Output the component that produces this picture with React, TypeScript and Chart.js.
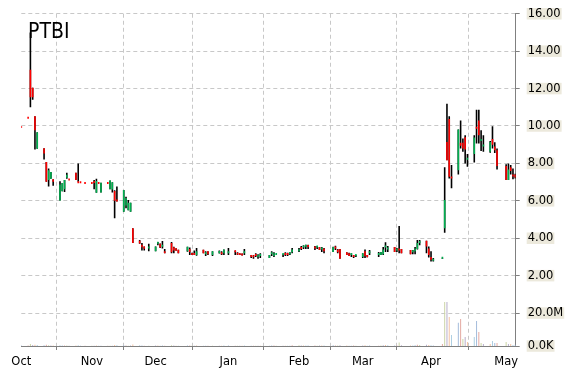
import React, { useEffect, useRef } from 'react';
import { Chart, registerables } from 'chart.js';

Chart.register(...registerables);

const TICKER = 'PTBI';

const DATES = [
  '2014-10-03','2014-10-06','2014-10-07','2014-10-08','2014-10-09','2014-10-10','2014-10-13','2014-10-14','2014-10-15','2014-10-16',
  '2014-10-17','2014-10-20','2014-10-21','2014-10-22','2014-10-23','2014-10-24','2014-10-27','2014-10-28','2014-10-29','2014-10-31',
  '2014-11-03','2014-11-04','2014-11-05','2014-11-06','2014-11-07','2014-11-10','2014-11-11','2014-11-12','2014-11-13','2014-11-14',
  '2014-11-17','2014-11-18','2014-11-19','2014-11-20','2014-11-21','2014-11-24','2014-11-25','2014-11-26','2014-11-28',
  '2014-12-01','2014-12-02','2014-12-03','2014-12-04','2014-12-05','2014-12-08','2014-12-09','2014-12-10','2014-12-11','2014-12-15',
  '2014-12-16','2014-12-17','2014-12-18','2014-12-19','2014-12-22','2014-12-23','2014-12-24','2014-12-26','2014-12-29','2014-12-30','2014-12-31',
  '2015-01-02','2015-01-05','2015-01-06','2015-01-07','2015-01-08','2015-01-09','2015-01-12','2015-01-13','2015-01-14','2015-01-15',
  '2015-01-16','2015-01-20','2015-01-21','2015-01-22','2015-01-23','2015-01-26','2015-01-27','2015-01-28','2015-01-29','2015-01-30',
  '2015-02-02','2015-02-03','2015-02-04','2015-02-05','2015-02-06','2015-02-09','2015-02-10','2015-02-11','2015-02-12','2015-02-13',
  '2015-02-17','2015-02-18','2015-02-19','2015-02-20','2015-02-23','2015-02-24','2015-02-25','2015-02-26','2015-02-27',
  '2015-03-02','2015-03-03','2015-03-04','2015-03-05','2015-03-09','2015-03-10','2015-03-11','2015-03-12','2015-03-13','2015-03-16',
  '2015-03-17','2015-03-18','2015-03-19','2015-03-23','2015-03-24','2015-03-25','2015-03-26','2015-03-27','2015-03-30','2015-03-31',
  '2015-04-01','2015-04-02','2015-04-06','2015-04-07','2015-04-08','2015-04-09','2015-04-10','2015-04-13','2015-04-14','2015-04-15',
  '2015-04-16','2015-04-17','2015-04-20','2015-04-21','2015-04-22','2015-04-23','2015-04-24','2015-04-27','2015-04-28','2015-04-29','2015-04-30',
  '2015-05-04','2015-05-05','2015-05-06','2015-05-07','2015-05-08',
];

const OPEN = [
  10.0,10.5,13.0,12.04,10.52,8.78,8.81,8.07,7.11,7.18,7.15,6.02,6.51,6.62,7.23,7.2,7.5,7.05,7.05,7.0,
  7.0,7.05,6.43,7.0,6.45,7.0,6.62,6.6,6.52,6.05,5.42,5.75,5.5,5.41,4.54,3.86,3.65,3.56,3.45,
  3.3,3.7,3.7,3.55,3.3,3.75,3.52,3.46,3.38,3.3,3.42,3.2,3.2,3.1,3.38,3.15,3.3,3.1,3.2,3.2,3.2,
  3.2,3.3,3.22,3.18,3.18,3.2,3.1,3.02,3.15,3.0,3.05,2.95,3.15,3.05,3.1,3.1,3.2,3.2,3.15,3.25,
  3.3,3.52,3.5,3.55,3.55,3.55,3.5,3.53,3.4,3.45,3.26,3.55,3.4,3.42,3.25,3.2,3.1,3.08,3.05,
  3.0,3.3,3.1,3.2,3.1,3.1,3.15,3.5,3.4,3.53,3.35,3.4,3.42,3.37,3.25,3.3,3.42,3.75,3.86,3.45,
  3.0,2.8,2.9,4.54,9.15,10.37,7.3,7.64,9.1,9.1,9.4,8.2,8.5,9.9,10.3,9.2,8.9,8.62,9.3,8.9,8.7,
  7.86,7.11,7.8,7.4,7.41,
];

const HIGH = [
  10.0,10.5,15.0,12.04,10.52,9.67,8.81,8.07,7.73,7.54,7.15,7.05,6.95,7.11,7.5,7.2,7.5,8.0,7.05,7.0,
  7.0,7.11,7.18,7.0,6.97,7.0,7.08,6.99,6.56,6.76,6.58,6.22,6.05,5.9,4.54,3.9,3.74,3.56,3.7,
  3.56,3.8,3.72,3.85,3.43,3.8,3.55,3.46,3.38,3.55,3.5,3.22,3.35,3.48,3.38,3.3,3.3,3.3,3.35,3.3,3.4,
  3.48,3.35,3.25,3.18,3.18,3.42,3.1,3.1,3.2,3.15,3.2,3.1,3.3,3.25,3.12,3.15,3.25,3.22,3.25,3.48,
  3.48,3.58,3.63,3.65,3.65,3.58,3.58,3.53,3.53,3.48,3.55,3.6,3.42,3.42,3.25,3.22,3.2,3.1,3.1,
  3.2,3.4,3.1,3.37,3.26,3.26,3.53,3.78,3.58,3.53,3.48,4.66,3.42,3.37,3.37,3.53,3.9,3.9,3.86,3.56,
  3.3,2.95,2.96,7.79,11.19,10.52,7.91,9.81,10.3,9.33,9.5,8.5,9.5,10.87,10.87,9.77,9.5,9.2,9.98,9.13,8.8,
  7.96,8.0,7.91,7.73,7.45,
];

const LOW = [
  10.0,10.5,11.0,11.4,8.74,8.78,8.21,7.02,6.76,7.18,6.81,6.02,6.51,6.47,7.18,7.2,7.12,7.02,7.05,7.0,
  7.0,6.62,6.43,7.0,6.45,7.0,6.62,6.45,5.07,5.96,5.42,5.6,5.5,5.41,3.74,3.7,3.35,3.35,3.3,
  3.3,3.62,3.48,3.45,3.2,3.2,3.2,3.33,3.2,3.28,3.1,3.1,3.1,3.07,3.2,3.05,3.1,3.05,3.18,3.1,3.1,
  3.1,3.1,3.1,3.1,3.08,3.1,2.95,2.9,3.0,2.9,2.95,2.95,3.05,3.0,3.1,3.0,3.05,3.05,3.1,3.2,
  3.26,3.37,3.42,3.42,3.42,3.37,3.42,3.37,3.26,3.2,3.26,3.37,3.2,2.9,3.1,3.05,3.0,2.95,3.0,
  2.95,2.95,2.98,3.1,3.0,3.1,3.1,3.26,3.26,3.26,3.26,3.2,3.2,3.15,3.15,3.15,3.4,3.63,3.2,2.97,
  2.76,2.76,2.9,4.3,8.17,7.2,6.67,7.41,8.8,8.62,8.0,7.82,8.05,9.06,9.06,8.67,8.62,8.57,8.8,8.56,7.68,
  7.11,7.11,7.41,7.15,7.2,
];

const CLOSE = [
  10.0,10.5,11.54,11.54,9.77,9.67,8.53,7.02,7.64,7.54,7.02,6.87,6.95,7.11,7.39,7.2,7.12,7.05,7.05,7.0,
  7.0,6.95,7.06,7.0,6.97,7.0,7.08,6.99,6.0,5.97,6.58,6.15,5.9,5.9,3.74,3.72,3.52,3.44,3.55,
  3.56,3.75,3.5,3.6,3.3,3.25,3.35,3.33,3.2,3.55,3.26,3.1,3.1,3.3,3.2,3.2,3.15,3.3,3.32,3.15,3.4,
  3.3,3.25,3.12,3.1,3.08,3.22,3.0,2.98,3.05,3.02,3.1,3.1,3.17,3.2,3.12,3.12,3.1,3.1,3.17,3.4,
  3.4,3.42,3.52,3.57,3.53,3.45,3.52,3.37,3.42,3.3,3.53,3.45,3.25,2.9,3.1,3.05,3.12,3.0,3.07,
  3.2,3.05,2.98,3.22,3.12,3.26,3.4,3.52,3.42,3.26,3.37,3.35,3.2,3.15,3.27,3.45,3.74,3.77,3.56,3.1,
  2.85,2.9,2.96,6.05,8.17,7.29,7.2,9.81,8.95,8.8,8.75,8.22,9.38,9.85,9.5,9.22,8.92,9.15,9.0,8.7,7.86,
  7.11,7.68,7.6,7.3,7.25,
];

// volume in millions of shares
const VOLUME_M = [
  0.5,0.3,1.2,0.6,0.8,0.6,0.4,0.7,0.5,0.3,0.3,0.5,0.3,0.3,0.3,0.1,0.3,0.4,0.1,0.1,
  0.1,0.2,0.3,0.1,0.2,0.1,0.2,0.2,0.6,0.4,0.4,0.3,0.2,0.3,0.9,0.4,0.3,0.2,0.2,
  0.3,0.3,0.2,0.3,0.2,0.4,0.3,0.2,0.2,0.3,0.3,0.2,0.2,0.3,0.2,0.2,0.1,0.2,0.2,0.2,0.3,
  0.3,0.2,0.2,0.2,0.2,0.3,0.2,0.2,0.2,0.2,0.2,0.2,0.3,0.3,0.2,0.2,0.2,0.2,0.2,0.4,
  0.4,0.3,0.3,0.3,0.3,0.3,0.2,0.3,0.3,0.3,0.4,0.3,0.3,0.5,0.3,0.2,0.2,0.3,0.2,
  0.3,0.4,0.2,0.3,0.2,0.3,0.5,0.6,0.4,0.3,0.3,2.2,0.5,0.3,0.3,0.4,0.8,0.6,0.7,0.6,
  0.4,0.3,1.2,26.7,26.7,17.6,6.7,14.1,16.4,4.2,5.5,2.4,5.5,15.2,8.5,1.8,1.2,1.2,3.0,1.8,1.8,
  2.4,1.2,1.2,0.6,0.8,
];

const PRICE_TICKS = [16, 14, 12, 10, 8, 6, 4, 2];
const VOLUME_TICKS_M = [20, 0];
const VOLUME_TICK_LABELS = ['20.0M', '0.0K'];
const MONTH_NAMES = ['Jan', 'Feb', 'Mar', 'Apr', 'May', 'Jun', 'Jul', 'Aug', 'Sep', 'Oct', 'Nov', 'Dec'];

const UP_COLOR = '#00b050';
const DOWN_COLOR = '#ff0000';
const WICK_COLOR = '#000000';
const VOLUME_COLORS = ['#a4bcdc', '#e4aaa2', '#ccd5a6', '#b8aecb', '#f3c2a2', '#aecfe2'];

const PRICE_MAX = 16;
const PRICE_MIN = -1.76;
// the 20.0M volume tick shares the price-0 grid line
const VOLUME_AXIS_MAX = (20 * (PRICE_MAX - PRICE_MIN)) / (0 - PRICE_MIN);

const ORIGIN = Date.UTC(2014, 9, 1);
const dayOf = (s: string) => (Date.parse(s) - ORIGIN) / 86400000;
const volumeToPrice = (v: number) => PRICE_MIN + (v / VOLUME_AXIS_MAX) * (PRICE_MAX - PRICE_MIN);

const FONT_FAMILY = '"DejaVu Sans", Verdana, sans-serif';

export default function App() {
  const canvasRef = useRef<HTMLCanvasElement | null>(null);

  useEffect(() => {
    document.body.style.margin = '0';
    const canvas = canvasRef.current;
    if (!canvas) return;

    const days = DATES.map(dayOf);

    const monthTicks: { value: number; label: string }[] = [];
    let lastMonth = -1;
    DATES.forEach((s, i) => {
      const m = Number(s.slice(5, 7)) - 1;
      if (m !== lastMonth) {
        monthTicks.push({ value: days[i], label: MONTH_NAMES[m] });
        lastMonth = m;
      }
    });

    const yTicks: { value: number; label: string }[] = [
      ...PRICE_TICKS.map((p) => ({ value: p, label: p.toFixed(2) })),
      ...VOLUME_TICKS_M.map((v, i) => ({ value: volumeToPrice(v), label: VOLUME_TICK_LABELS[i] })),
    ];

    const titlePlugin = {
      id: 'tickerTitle',
      afterDraw(chart: any) {
        const ctx = chart.ctx as CanvasRenderingContext2D;
        ctx.save();
        ctx.font = '21px "DejaVu Sans Condensed", "DejaVu Sans", sans-serif';
        ctx.fillStyle = '#000';
        ctx.textBaseline = 'alphabetic';
        ctx.textAlign = 'left';
        ctx.fillText(TICKER, 28, 38);
        ctx.restore();
      },
    };

    const chart = new Chart(canvas, {
      type: 'bar',
      data: {
        datasets: [
          {
            label: 'body',
            data: DATES.map((_, i) => ({
              x: days[i],
              y: [Math.min(OPEN[i], CLOSE[i]), Math.max(OPEN[i], CLOSE[i])],
            })) as any,
            backgroundColor: DATES.map((_, i) => (CLOSE[i] > OPEN[i] ? UP_COLOR : DOWN_COLOR)),
            barThickness: 1.6,
            inflateAmount: 0,
            minBarLength: 2,
            grouped: false,
            yAxisID: 'y',
          } as any,
          {
            label: 'range',
            data: DATES.map((_, i) => ({ x: days[i], y: [LOW[i], HIGH[i]] })) as any,
            backgroundColor: WICK_COLOR,
            barThickness: 1.6,
            inflateAmount: 0,
            grouped: false,
            yAxisID: 'y',
          } as any,
          {
            label: 'volume',
            data: DATES.map((_, i) => ({ x: days[i], y: VOLUME_M[i] })) as any,
            backgroundColor: DATES.map((_, i) => VOLUME_COLORS[i % VOLUME_COLORS.length]),
            barThickness: 1,
            inflateAmount: 0,
            grouped: false,
            yAxisID: 'yv',
          } as any,
        ],
      },
      options: {
        responsive: false,
        animation: false,
        devicePixelRatio: 1,
        events: [],
        layout: { padding: { left: 21.3, top: 13, right: 0, bottom: 0 } },
        plugins: {
          legend: { display: false },
          tooltip: { enabled: false },
          title: { display: false },
        },
        scales: {
          x: {
            type: 'linear',
            min: days[0],
            max: days[days.length - 1] + 0.2,
            offset: false,
            afterBuildTicks: (scale: any) => {
              scale.ticks = monthTicks.map((t) => ({ value: t.value }));
            },
            afterFit: (scale: any) => {
              scale.height = 24;
            },
            ticks: {
              autoSkip: false,
              maxRotation: 0,
              color: '#000',
              padding: 5,
              font: { family: FONT_FAMILY, size: 11.5 },
              callback: (v: any) => {
                const t = monthTicks.find((m) => Math.abs(m.value - Number(v)) < 1e-6);
                return t ? t.label : '';
              },
            },
            grid: {
              color: '#c8c8c8',
              lineWidth: 1,
              drawTicks: true,
              tickLength: 4,
              tickColor: '#808080',
            },
            border: { display: true, color: '#808080', width: 1, dash: [4, 3] },
          } as any,
          y: {
            type: 'linear',
            position: 'right',
            min: PRICE_MIN,
            max: PRICE_MAX,
            afterBuildTicks: (scale: any) => {
              scale.ticks = yTicks.map((t) => ({ value: t.value }));
            },
            afterFit: (scale: any) => {
              scale.width = 54.3;
            },
            ticks: {
              color: '#000',
              padding: 8,
              font: { family: FONT_FAMILY, size: 11.5, lineHeight: 1 },
              showLabelBackdrop: true,
              backdropColor: '#ece9dc',
              backdropPadding: { top: 0, bottom: 0, left: 1, right: 1 },
              callback: (v: any) => {
                const t = yTicks.find((m) => Math.abs(m.value - Number(v)) < 1e-6);
                return t ? t.label : '';
              },
            },
            grid: {
              color: '#c8c8c8',
              lineWidth: 1,
              drawTicks: true,
              tickLength: 4,
              tickColor: '#808080',
            },
            border: { display: true, color: '#808080', width: 1, dash: [4, 3] },
          } as any,
          yv: {
            type: 'linear',
            display: false,
            min: 0,
            max: VOLUME_AXIS_MAX,
          } as any,
        },
      } as any,
      plugins: [titlePlugin],
    });

    return () => {
      chart.destroy();
    };
  }, []);

  return (
    <div style={{ width: 570, height: 370 }}>
      <canvas ref={canvasRef} width={570} height={370} style={{ display: 'block' }} />
    </div>
  );
}
